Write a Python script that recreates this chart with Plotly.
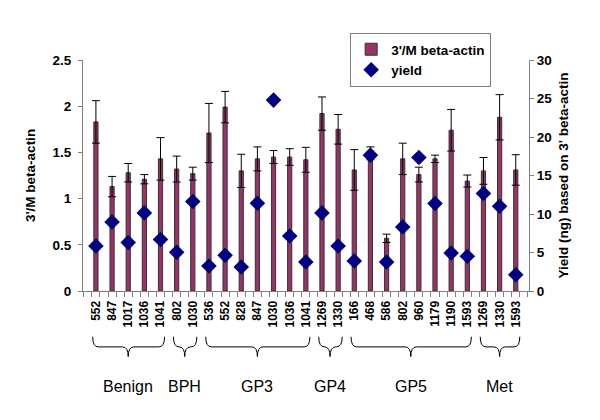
import plotly.graph_objects as go

labels = ["552", "847", "1017", "1036", "1041", "802", "1030", "536", "552", "828",
          "847", "1030", "1036", "1041", "1269", "1330", "166", "468", "586", "802",
          "960", "1179", "1190", "1593", "1269", "1330", "1593"]
groups = ["Benign", "BPH", "GP3", "GP4", "GP5", "Met"]
group_sizes = [5, 2, 7, 2, 8, 3]
ratio = [1.83, 1.13, 1.28, 1.21, 1.43, 1.32, 1.27, 1.71, 1.99, 1.30,
         1.43, 1.45, 1.45, 1.42, 1.92, 1.75, 1.31, 1.49, 0.57, 1.43,
         1.26, 1.43, 1.74, 1.19, 1.30, 1.88, 1.31]
ratio_err = [0.23, 0.11, 0.10, 0.05, 0.23, 0.14, 0.07, 0.32, 0.17, 0.18,
             0.13, 0.07, 0.09, 0.135, 0.18, 0.16, 0.22, 0.07, 0.045, 0.17,
             0.08, 0.04, 0.225, 0.065, 0.145, 0.245, 0.165]
yield_ng = [5.85, 8.97, 6.29, 10.14, 6.68, 5.03, 11.62, 3.25, 4.64, 3.12,
            11.4, 24.79, 7.15, 3.77, 10.14, 5.85, 3.9, 17.64, 3.77, 8.32,
            17.34, 11.36, 4.94, 4.51, 12.66, 11.01, 2.12]

FONT = "Liberation Sans, Arial, sans-serif"
idx = list(range(len(labels)))

fig = go.Figure()
fig.add_trace(go.Bar(
    x=idx, y=ratio, name="3'/M beta-actin", width=0.26,
    marker=dict(color="#993366", line=dict(color="#333333", width=1)),
    error_y=dict(type="data", array=ratio_err, visible=True,
                 color="#000000", thickness=1, width=4),
))
fig.add_trace(go.Scatter(
    x=idx, y=yield_ng, name="yield", mode="markers", yaxis="y2",
    marker=dict(symbol="diamond", size=12, color="#000080",
                line=dict(color="#000080", width=0)),
))

# braces and group labels
shapes = []
annotations = []
ytop, ymid, ybot = -0.198, -0.242, -0.284
d = 0.35
start = 0
for g, n in zip(groups, group_sizes):
    first, last = start, start + n - 1
    x0, x1 = first - 0.2, last + 0.25
    xm = (first + last) / 2
    path = (f"M {x0},{ytop} Q {x0},{ymid} {x0 + d},{ymid} "
            f"L {xm - d},{ymid} Q {xm},{ymid} {xm},{ybot} "
            f"Q {xm},{ymid} {xm + d},{ymid} "
            f"L {x1 - d},{ymid} Q {x1},{ymid} {x1},{ytop}")
    shapes.append(dict(type="path", path=path, xref="x", yref="paper",
                       line=dict(color="#000000", width=1)))
    annotations.append(dict(x=xm, y=-0.414, xref="x", yref="paper", text=g,
                            showarrow=False, yanchor="middle", xanchor="center",
                            font=dict(family=FONT, size=16, color="#000000")))
    start += n

# the page body adds an 8px margin, so the figure is 8px smaller with 8px less left/top margin
fig.update_layout(
    width=592, height=412,
    margin=dict(l=75, r=71, t=52, b=129),
    paper_bgcolor="white", plot_bgcolor="white",
    font=dict(family=FONT, color="#000000"),
    showlegend=True,
    legend=dict(x=0.599, y=1.117, xanchor="left", yanchor="top",
                bordercolor="#808080", borderwidth=1, bgcolor="white",
                font=dict(family=FONT, size=13.5, weight="bold"),
                tracegroupgap=0, itemwidth=30),
    xaxis=dict(range=[-0.8, 26.82], tickmode="array", tickvals=idx, ticktext=labels,
               tickangle=-90, tickfont=dict(family=FONT, size=12, weight="bold"),
               ticklabelstandoff=4,
               showline=True, linecolor="#808080", linewidth=1, automargin=False,
               ticks="", showgrid=False, zeroline=False,
               minor=dict(tickmode="linear", tick0=0.25, dtick=0.5, ticks="outside",
                          ticklen=5, tickcolor="#808080", tickwidth=1)),
    yaxis=dict(range=[0, 2.5], dtick=0.5, automargin=False,
               showline=True, linecolor="#808080", linewidth=1,
               ticks="outside", ticklen=4, tickcolor="#808080", ticklabelstandoff=4,
               tickfont=dict(family=FONT, size=13.5, weight="bold"),
               showgrid=False, zeroline=False,
               title=dict(text="3'/M beta-actin", standoff=13,
                          font=dict(family=FONT, size=13.5, weight="bold"))),
    yaxis2=dict(range=[0, 30], dtick=5, overlaying="y", side="right", automargin=False,
                showline=True, linecolor="#808080", linewidth=1,
                ticks="outside", ticklen=4, tickcolor="#808080",
                tickfont=dict(family=FONT, size=13.5, weight="bold"),
                showgrid=False, zeroline=False,
                title=dict(text="Yield (ng) based on 3' beta-actin", standoff=7,
                           font=dict(family=FONT, size=13.5, weight="bold"))),
    shapes=shapes,
    annotations=annotations,
)

fig.write_html("out.html")
